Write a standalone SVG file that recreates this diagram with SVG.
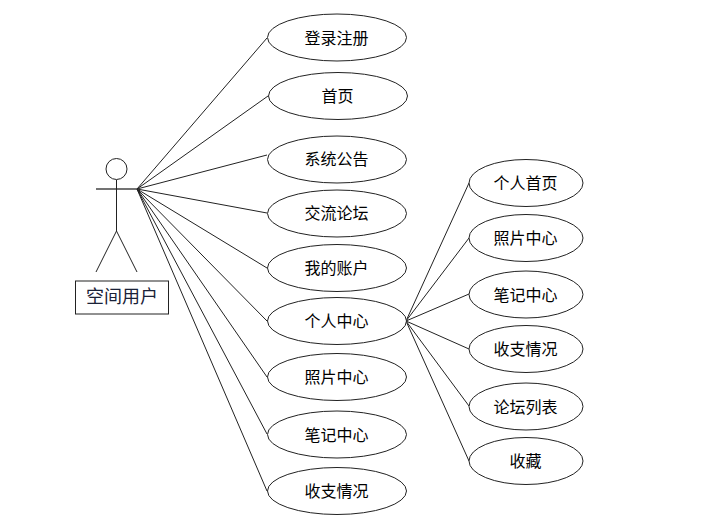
<svg xmlns="http://www.w3.org/2000/svg" width="714" height="531" viewBox="0 0 714 531">
<style>
.e{fill:#fff;stroke:#222;stroke-width:1}
.l{stroke:#222;stroke-width:1;fill:none}
text{font-family:"Noto Sans CJK SC","Noto Sans",sans-serif;font-size:16px;text-anchor:middle;fill:#000}
</style>
<rect width="714" height="531" fill="#fff"/>
<g id="connectors" class="l">
<line x1="137" y1="189" x2="267" y2="38"/>
<line x1="137" y1="189" x2="268" y2="96"/>
<line x1="137" y1="189" x2="267" y2="155"/>
<line x1="137" y1="189" x2="267" y2="213"/>
<line x1="137" y1="189" x2="267" y2="268"/>
<line x1="137" y1="189" x2="267" y2="321"/>
<line x1="137" y1="189" x2="267" y2="377"/>
<line x1="137" y1="189" x2="267" y2="434"/>
<line x1="137" y1="189" x2="267" y2="491"/>
<line x1="406" y1="321" x2="469" y2="183"/>
<line x1="406" y1="321" x2="469" y2="238"/>
<line x1="406" y1="321" x2="469" y2="294"/>
<line x1="406" y1="321" x2="469" y2="349"/>
<line x1="406" y1="321" x2="469" y2="406"/>
<line x1="406" y1="321" x2="469" y2="461"/>
</g>
<g id="actor" class="l">
<circle cx="116.500" cy="169" r="10.500"/>
<line x1="96" y1="189" x2="137" y2="189" stroke-width="1.500" stroke="#444"/>
<line x1="116.500" y1="180" x2="116.500" y2="231"/>
<line x1="116.500" y1="231" x2="96" y2="272"/>
<line x1="116.500" y1="231" x2="137" y2="272"/>
</g>
<g id="actor-label">
<rect x="75.500" y="281" width="93" height="33" fill="#fff" stroke="#222"/>
<text x="122" y="303" style="fill:#1a2238;font-size:18px">空间用户</text>
</g>
<g id="n1"><ellipse class="e" cx="337" cy="37.500" rx="69.500" ry="23.500"/><text x="336.500" y="44">登录注册</text></g>
<g id="n2"><ellipse class="e" cx="338" cy="96" rx="69.500" ry="23.500"/><text x="337.500" y="102">首页</text></g>
<g id="n3"><ellipse class="e" cx="337" cy="159.500" rx="69.500" ry="23.500"/><text x="336.500" y="165">系统公告</text></g>
<g id="n4"><ellipse class="e" cx="337" cy="213.500" rx="69.500" ry="23.500"/><text x="336.500" y="219">交流论坛</text></g>
<g id="n5"><ellipse class="e" cx="337" cy="268" rx="69.500" ry="23.500"/><text x="336.500" y="274">我的账户</text></g>
<g id="n6"><ellipse class="e" cx="337" cy="321" rx="69.500" ry="23.500"/><text x="336.500" y="327">个人中心</text></g>
<g id="n7"><ellipse class="e" cx="337" cy="377" rx="69.500" ry="23.500"/><text x="336.500" y="383">照片中心</text></g>
<g id="n8"><ellipse class="e" cx="337" cy="434.500" rx="69.500" ry="23.500"/><text x="336.500" y="441">笔记中心</text></g>
<g id="n9"><ellipse class="e" cx="337" cy="491" rx="69.500" ry="23.500"/><text x="336.500" y="497">收支情况</text></g>
<g id="m1"><ellipse class="e" cx="526" cy="183" rx="57" ry="23.500"/><text x="525.500" y="189">个人首页</text></g>
<g id="m2"><ellipse class="e" cx="526" cy="238" rx="57" ry="23.500"/><text x="525.500" y="244">照片中心</text></g>
<g id="m3"><ellipse class="e" cx="526" cy="294.500" rx="57" ry="23.500"/><text x="525.500" y="301">笔记中心</text></g>
<g id="m4"><ellipse class="e" cx="526" cy="349" rx="57" ry="23.500"/><text x="525.500" y="355">收支情况</text></g>
<g id="m5"><ellipse class="e" cx="526" cy="406.500" rx="57" ry="23.500"/><text x="525.500" y="413">论坛列表</text></g>
<g id="m6"><ellipse class="e" cx="526" cy="461" rx="57" ry="23.500"/><text x="525.500" y="467">收藏</text></g>
</svg>
